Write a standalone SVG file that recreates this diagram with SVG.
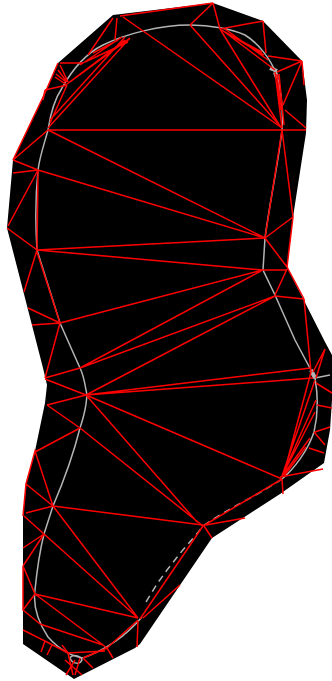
<svg xmlns="http://www.w3.org/2000/svg" width="332" height="681" viewBox="0 0 332 681">
<style>
.g{fill:none;stroke:#b4b4b4;stroke-width:1.5}
.b{fill:none;stroke:#b4b4b4;stroke-width:4}
.r{fill:none;stroke:#f00;stroke-width:1.5}
</style>
<rect width="332" height="681" fill="#fff"/>
<polygon id="body" fill="#000" points="113,15 213,3 263,21 302,61 307,100 306,133 293,217 287,267 325,342 332,355 332,400 330,430 324,463 280,494 212,538 140,644 135,648 74,679 23,644 23,516 26,484 35,451 45,403 47,385 43,368 7,228 13,160 45,93 58,63"/>
<g id="curve">
<path class="g" d="M48,130 C51,110 56,97 62,88 C72,70 85,54 103,45 C125,34 160,25 190,25 C210,25 232,29 245,35 C258,43 270,58 277,75 C282,95 283,115 282,130 C278,165 270,200 265,238 L263,270 L275,295 L295,340 L312,372 L315,378 C318,395 318,415 314,432 C308,450 295,468 282,479"/>
<path class="g" stroke-dasharray="7 5" d="M282,479 C255,497 225,510 203,526 L195,536 L182,551 L167,570 L157,584 L146,602"/>
<path class="g" d="M142,617 C125,637 105,650 83,658 C70,656 58,648 48,637 C38,622 33,605 35,590 C37,570 40,550 44,534 L53,506 C62,485 72,460 80,428 C86,410 88,395 86,390 C84,378 82,372 80,368 L60,323 L37,250 C35,220 36,190 38,170 C40,155 44,145 48,130"/>
<path class="g" d="M315,378 L330,375"/>
<path class="g" d="M70,658 C72,654 80,655 82,660 C80,665 72,664 70,658"/>
<path class="b" d="M270,68 L277,71 M275,72 L277,78 M311,370 L315,378"/>
</g>
<g id="mesh">
<path class="r" d="M120,16 L213,3 M213,3 L190,25 M213,3 L220,29 M220,29 L263,21 M263,21 L266,53 M268,56 L302,61 M277,72 L302,61 M302,61 L283,105 M302,61 L304,85 M285,110 L306,128 M48,130 L306,130 M282,130 L293,217 M293,217 L265,238 M293,217 L287,267 M265,238 L287,267 M263,270 L287,270 M287,269 L275,295 M275,296 L304,299 M304,299 L311,372 M287,267 L304,299 M313,372 L325,349 M316,378 L325,349"/>
<path class="r" d="M48,130 L13,160 M13,160 L45,93 L58,63 M13,160 L38,170 M38,170 L13,173 M38,170 L8,226 M38,170 L265,238 M48,130 L265,238 M38,170 L37,250 M282,130 L265,238"/>
<path class="r" d="M37,250 L265,238 M37,250 L263,270 M37,250 L7,228 M37,250 L24,292 M37,252 L60,323 M60,323 L28,308 M60,323 L32,325 M60,323 L263,270 M60,323 L45,378 M80,368 L45,378 M80,368 L261,271 M80,368 L275,296 M86,395 L275,296 M86,395 L311,368 M86,395 L313,378 M86,395 L45,379 M86,395 L47,405 M47,405 L80,428 M80,428 L35,452 M86,395 L282,479 M86,395 L197,522 M80,428 L203,526"/>
<path class="r" d="M311,372 L284,473 M315,380 L282,476 M316,400 L282,476 M315,412 L282,476 M310,438 L283,475 M306,447 L284,476 M316,383 L332,393 M317,405 L332,408 M315,432 L330,427 M314,432 L325,445 M309,448 L324,453 M280,477 L323,469 M282,479 L283,494 M282,479 L203,526 M204,526 L212,538 M206,525 L245,518"/>
<path class="r" d="M203,526 L140,619 M143,618 L180,585 M138,621 L137,647 M53,506 L203,525 M53,506 L138,618 M44,534 L138,618 M53,506 L26,484 M53,506 L26,513 M53,506 L35,451 L26,484 L23,516 M24,516 L44,534 M44,534 L23,548 M44,534 L23,566 M23,566 L35,594 M35,594 L138,618 M35,594 L107,648 M35,594 L23,610 L40,624 M40,624 L103,645 M23,630 L45,641 L41,652 M23,566 L23,610 M52,645 L47,655 M107,648 L113,658 M107,648 L138,620 M107,648 L83,658 M83,658 L93,668 M62,645 L68,653 L105,651 M45,641 L68,653 M68,653 L73,675 M65,660 L82,675 M75,660 L66,675 M80,658 L75,675"/>
<path class="r" d="M60,63 L83,63 M113,18 L88,55 M117,18 L115,40 M123,17 L282,128 M130,38 L48,128 M125,37 L50,120 M130,38 L70,82 M125,40 L67,84 M122,37 L80,65 M128,42 L85,62 M118,40 L93,53 M60,65 L68,82 M55,77 L67,85 M58,70 L67,82 M56,74 L66,82 M45,90 L67,85 M67,85 L50,123 M45,90 L43,100"/>
<path class="r" d="M190,25 L282,128 M220,29 L280,126 M222,30 L275,70 M225,32 L264,55 M225,29 L268,60 M228,34 L262,52 M275,72 L282,128 M279,74 L284,125 M277,74 L281,110"/>
</g>
</svg>
